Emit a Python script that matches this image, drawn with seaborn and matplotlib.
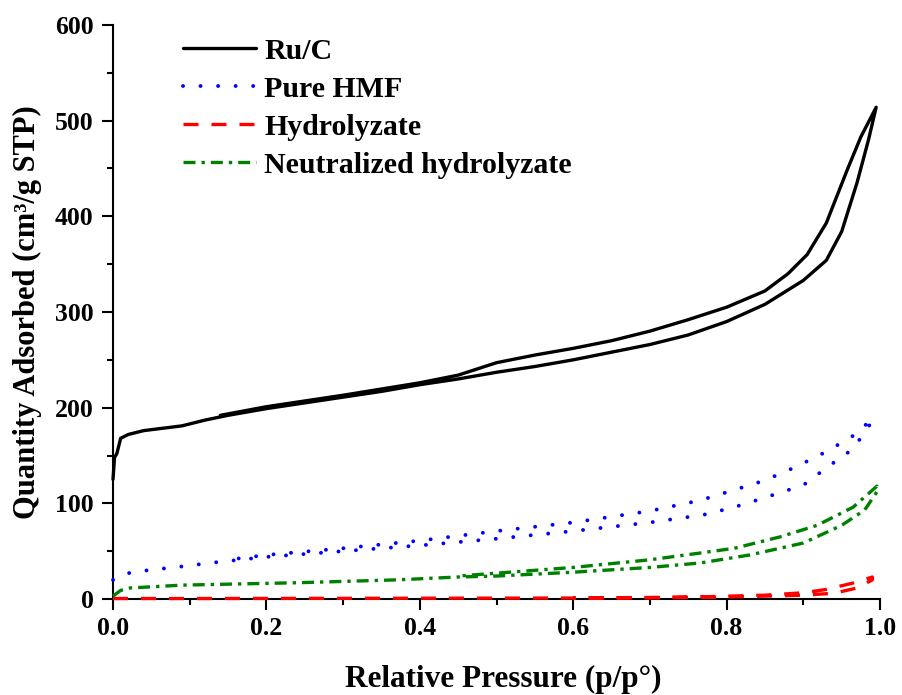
import numpy as np
import pandas as pd
import matplotlib
matplotlib.use("Agg")
import matplotlib.pyplot as plt
import seaborn as sns
from matplotlib.ticker import MultipleLocator

# ---------------- data ----------------
ruc_ads_x = [0.0, 0.002, 0.005, 0.01, 0.02, 0.04, 0.06, 0.09, 0.12, 0.15, 0.2, 0.25, 0.3,
             0.35, 0.4, 0.45, 0.5, 0.55, 0.6, 0.65, 0.7, 0.75, 0.8, 0.85, 0.88, 0.9,
             0.93, 0.95, 0.97, 0.985, 0.995]
ruc_ads_y = [125, 148, 152, 168, 172, 176, 178, 181, 187, 192, 199, 205, 211,
             217, 224, 230, 237, 243, 250, 258, 266, 276, 290, 308, 323, 333,
             354, 384, 435, 480, 514]
ruc_des_x = [0.995, 0.975, 0.957, 0.93, 0.905, 0.88, 0.85, 0.8, 0.75, 0.7, 0.65, 0.6,
             0.55, 0.5, 0.45, 0.4, 0.3, 0.2, 0.14]
ruc_des_y = [514, 483, 448, 393, 360, 340, 322, 305, 292, 280, 270, 262,
             255, 247, 234, 226, 213, 201, 192]

hmf_ads_x = [0.0, 0.02, 0.045, 0.09, 0.13, 0.2, 0.3, 0.4, 0.5, 0.6, 0.7, 0.77, 0.81,
             0.85, 0.9, 0.93, 0.965, 0.99]
hmf_ads_y = [20, 27, 30, 34, 38, 44, 50, 56, 63, 71, 80, 88, 96, 106, 119, 137, 157, 186]
hmf_des_x = [0.99, 0.97, 0.93, 0.89, 0.85, 0.81, 0.765, 0.7, 0.6, 0.5, 0.4, 0.3, 0.2, 0.15]
hmf_des_y = [189, 173, 154, 138, 124, 114, 103, 92, 80, 71, 61, 53, 46, 41]

hyd_ads_x = [0.0, 0.1, 0.2, 0.3, 0.4, 0.5, 0.6, 0.7, 0.78, 0.85, 0.9, 0.94, 0.97, 0.99]
hyd_ads_y = [0.5, 0.5, 0.6, 0.7, 0.8, 0.9, 1.0, 1.3, 1.8, 3, 4, 6, 11.5, 20]
hyd_des_x = [0.99, 0.965, 0.93, 0.9, 0.85, 0.78, 0.7, 0.6]
hyd_des_y = [23, 16.7, 10, 6.5, 4, 2.5, 1.6, 1.1]

neu_ads_x = [0.0, 0.01, 0.022, 0.09, 0.24, 0.37, 0.45, 0.5, 0.6, 0.7, 0.765, 0.83, 0.9,
             0.95, 0.98, 0.996]
neu_ads_y = [3, 9, 11.5, 14.5, 17, 20, 23, 24, 28, 33, 37.6, 46, 58.5, 77, 93, 112]
neu_des_x = [0.996, 0.965, 0.918, 0.87, 0.81, 0.765, 0.7, 0.6, 0.5, 0.45]
neu_des_y = [118, 96, 77, 65, 53, 48, 41, 33, 27, 24]

labels = ["Ru/C", "Pure HMF", "Hydrolyzate", "Neutralized hydrolyzate"]
colors = ["black", "blue", "red", "green"]
x_ticks = [0.0, 0.2, 0.4, 0.6, 0.8, 1.0]
y_ticks = [0, 100, 200, 300, 400, 500, 600]

# ---------------- style ----------------
sns.set_theme(style="ticks")
plt.rcParams["font.family"] = ["Liberation Serif", "DejaVu Serif"]
plt.rcParams["font.weight"] = "bold"

fig = plt.figure(figsize=(9.03, 6.95), dpi=100)
ax = fig.add_axes([113 / 903, 1 - 599 / 695, (880 - 113) / 903, (599 - 25) / 695])

styles = [
    dict(ls="-", cap="butt", lw=2.4),
    dict(ls=(0, (0.01, 4.5)), cap="round", lw=2.8),
    dict(ls=(0, (4.5, 3.9)), cap="butt", lw=2.4),
    dict(ls=(0, (3.6, 1.8, 1.0, 1.8)), cap="butt", lw=2.4),
]

series = [
    (ruc_ads_x + ruc_des_x, ruc_ads_y + ruc_des_y),
    (hmf_ads_x + hmf_des_x, hmf_ads_y + hmf_des_y),
    (hyd_ads_x + hyd_des_x, hyd_ads_y + hyd_des_y),
    (neu_ads_x + neu_des_x, neu_ads_y + neu_des_y),
]

for (xs, ys), lab, col, st in zip(series, labels, colors, styles):
    df = pd.DataFrame({"x": xs, "y": ys})
    sns.lineplot(data=df, x="x", y="y", sort=False, estimator=None, ax=ax,
                 color=col, label=lab, linewidth=st["lw"], linestyle=st["ls"],
                 dash_capstyle=st["cap"], clip_on=False, zorder=3)

ax.set_xlim(0, 1.0)
ax.set_ylim(0, 600)
ax.set_xticks(x_ticks)
ax.set_yticks(y_ticks)
ax.set_xticklabels([f"{v:.1f}" for v in x_ticks])
ax.set_yticklabels([str(v) for v in y_ticks])
ax.xaxis.set_minor_locator(MultipleLocator(0.1))
ax.yaxis.set_minor_locator(MultipleLocator(50))
ax.tick_params(axis="both", which="major", direction="out", length=8, width=1.5,
               labelsize=18.5, color="black", labelcolor="black")
ax.tick_params(axis="x", which="major", pad=5)
ax.tick_params(axis="y", which="major", pad=6)
ax.tick_params(axis="both", which="minor", direction="out", length=4.3, width=1.5,
               color="black")
for lbl in ax.get_xticklabels() + ax.get_yticklabels():
    lbl.set_fontweight("bold")

for s in ["top", "right"]:
    ax.spines[s].set_visible(False)
for s in ["left", "bottom"]:
    ax.spines[s].set_linewidth(1.5)
    ax.spines[s].set_color("black")
    ax.spines[s].set_zorder(2.5)

ax.set_xlabel("Relative Pressure (p/p°)", fontsize=22.5, fontweight="bold",
              va="baseline", color="black")
ax.xaxis.set_label_coords(0.509, -0.153)
ax.set_ylabel("Quantity Adsorbed (cm³/g STP)", fontsize=22, fontweight="bold",
              va="center", color="black")
ax.yaxis.set_label_coords(-0.112, 0.5)

leg = ax.legend(loc="upper left", bbox_to_anchor=(0.0913, 0.978), frameon=False,
                borderaxespad=0, borderpad=0,
                handlelength=2.45, handletextpad=0.27, labelspacing=0.37,
                prop={"weight": "bold", "size": 21.5})
for t in leg.get_texts():
    t.set_color("black")

fig.savefig("out.png", dpi=100)
